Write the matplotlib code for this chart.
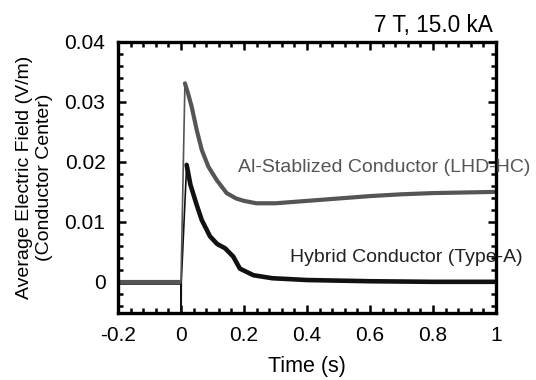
import matplotlib
matplotlib.use("Agg")
import matplotlib.pyplot as plt
from matplotlib.ticker import MultipleLocator

plt.rcParams["font.family"] = ["Liberation Sans", "DejaVu Sans"]

# values (time in s, field in V/m)
t_al = [-0.2, -0.1, -0.01, 0.0, 0.0125, 0.022, 0.034, 0.05, 0.066, 0.087, 0.113,
        0.145, 0.175, 0.2, 0.239, 0.3, 0.4, 0.5, 0.6, 0.7, 0.8, 0.9, 1.0]
e_al = [0.0, 0.0, 0.0, 0.0, 0.0331, 0.0315, 0.0292, 0.0253, 0.022, 0.0192, 0.017,
        0.0148, 0.0139, 0.0135, 0.0131, 0.0131, 0.0135, 0.0139, 0.0143, 0.0146, 0.0148,
        0.0149, 0.015]

t_hy = [-0.2, -0.1, -0.01, 0.0, 0.0005, 0.001, 0.018, 0.03, 0.05, 0.066, 0.092,
        0.115, 0.14, 0.166, 0.187, 0.23, 0.29, 0.4, 0.6, 0.8, 1.0]
e_hy = [0.0, 0.0, 0.0, 0.0, -0.006, 0.0, 0.0195, 0.0162, 0.0128, 0.0103, 0.0076,
        0.0063, 0.0056, 0.0042, 0.0022, 0.0011, 0.0006, 0.0003, 0.0001, 0.0, 0.0]

label_al = "Al-Stablized Conductor (LHD-HC)"
label_hy = "Hybrid Conductor (Type-A)"
title = "7 T, 15.0 kA"

fig = plt.figure(figsize=(5.36, 3.8), dpi=100)
ax = fig.add_axes([0.2201, 0.1763, 0.7053, 0.7132])


def draw(t, e, color, lw):
    # thin vertical rise at the trigger, thick noisy trace elsewhere
    k = t.index(0.0)
    ax.plot(t[:k + 1], e[:k + 1], color=color, lw=lw, solid_capstyle="butt")
    j = e.index(max(e))
    ax.plot(t[k:j + 1], e[k:j + 1], color=color, lw=1.2)
    ax.plot(t[j:], e[j:], color=color, lw=lw, solid_capstyle="round",
            solid_joinstyle="round")


draw(t_hy, e_hy, "#111111", 3.3)
draw(t_al, e_al, "#555555", 3.0)

ax.set_xlim(-0.2, 1.0)
ax.set_ylim(-0.0052, 0.04)
ax.xaxis.set_minor_locator(MultipleLocator(0.04))
ax.yaxis.set_minor_locator(MultipleLocator(0.002))
ax.set_xticks([-0.2, 0, 0.2, 0.4, 0.6, 0.8, 1.0])
ax.set_xticklabels(["-0.2", "0", "0.2", "0.4", "0.6", "0.8", "1"])
ax.set_yticks([0, 0.01, 0.02, 0.03, 0.04])
ax.set_yticklabels(["0", "0.01", "0.02", "0.03", "0.04"])

ax.tick_params(which="both", direction="in", top=True, right=True, width=1.8)
ax.tick_params(which="major", length=6, labelsize=15, pad=9)
ax.tick_params(which="minor", length=3.5)
for s in ax.spines.values():
    s.set_linewidth(2.4)

ax.set_xlabel("Time (s)", fontsize=15.5, labelpad=8)
ax.set_ylabel("Average Electric Field (V/m)\n(Conductor Center)", fontsize=14,
              linespacing=1.25, labelpad=8)

ax.text(0.18, 0.019, label_al, fontsize=14, color="#555555", va="center",
        clip_on=False)
ax.text(0.346, 0.0041, label_hy, fontsize=14, color="#222222", va="center",
        clip_on=False)
fig.text(0.919, 0.934, title, fontsize=16.3, ha="right", va="center")

fig.savefig("out.png", dpi=100)
